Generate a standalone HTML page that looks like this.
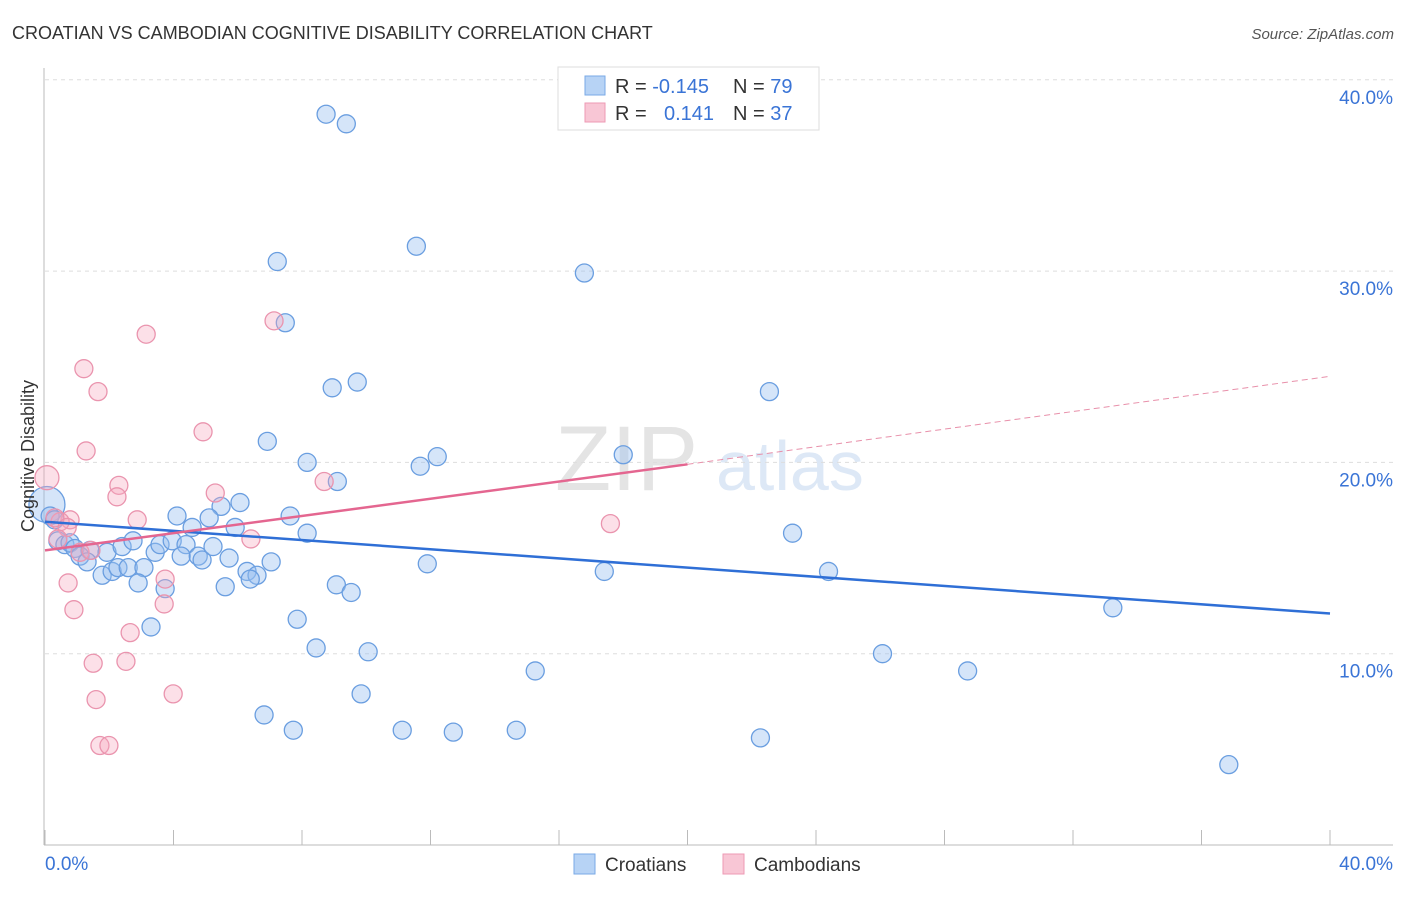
<!DOCTYPE html>
<html><head><meta charset="utf-8"><style>
body{margin:0;background:#fff;font-family:"Liberation Sans",sans-serif}
svg text{font-family:"Liberation Sans",sans-serif}
</style></head><body>
<svg id="chart" width="1406" height="892" xmlns="http://www.w3.org/2000/svg">
<text x="12" y="39" font-size="18" fill="#333">CROATIAN VS CAMBODIAN COGNITIVE DISABILITY CORRELATION CHART</text>
<text x="1394" y="39" font-size="15" fill="#555" font-style="italic" text-anchor="end">Source: ZipAtlas.com</text>
<g>
<text x="555" y="490" font-size="92" font-family="Liberation Serif,serif" fill="#e4e4e4">ZIP</text>
<text x="716" y="490" font-size="70" fill="#dde8f6">atlas</text>
</g>
<g id="grid"></g>
<g id="axes"></g>
<g id="marks"></g>
<text transform="translate(34,456) rotate(-90)" font-size="18" fill="#333" text-anchor="middle">Cognitive Disability</text>
<g>
<rect x="558" y="67" width="261" height="63" fill="#fff" stroke="#ddd"/>
<rect x="585" y="76" width="20" height="19" fill="#b7d3f5" stroke="#7aa9e6"/>
<rect x="585" y="103" width="20" height="19" fill="#f8c6d5" stroke="#ee9ab4"/>
<text x="615" y="93" font-size="20" fill="#333">R = <tspan fill="#3a74d6">-0.145</tspan></text>
<text x="733" y="93" font-size="20" fill="#333">N = <tspan fill="#3a74d6">79</tspan></text>
<text x="615" y="120" font-size="20" fill="#333">R = <tspan fill="#3a74d6" x="664">0.141</tspan></text>
<text x="733" y="120" font-size="20" fill="#333">N = <tspan fill="#3a74d6">37</tspan></text>
</g>
<g>
<rect x="574" y="854" width="21" height="20" fill="#b7d3f5" stroke="#7aa9e6"/>
<text x="605" y="871" font-size="19" fill="#333">Croatians</text>
<rect x="723" y="854" width="21" height="20" fill="#f8c6d5" stroke="#ee9ab4"/>
<text x="754" y="871" font-size="19" fill="#333">Cambodians</text>
</g>
</svg>
<script>
const yTicks=[10,20,30,40];
const yTickLabels=["10.0%","20.0%","30.0%","40.0%"];
const xTickLabels=["0.0%","40.0%"];
const blueX=[8.75,9.38,11.56,7.23,16.79,7.48,9.72,8.94,22.55,6.92,12.21,18.0,8.16,11.68,9.1,6.07,5.48,4.11,5.11,7.63,5.92,4.58,8.16,23.27,0.16,0.3,0.4,0.62,0.78,0.93,1.4,1.09,1.93,2.4,2.74,3.43,3.58,3.96,4.39,4.24,4.77,4.89,5.23,5.73,6.29,6.6,6.39,7.04,1.78,2.09,2.27,1.31,2.59,3.08,2.9,3.74,5.61,9.07,9.53,11.9,17.41,24.39,33.24,3.3,7.85,8.44,10.06,26.07,15.26,28.72,9.84,6.82,7.73,11.12,12.71,14.67,22.27,36.85];
const blueY=[38.2,37.7,31.3,30.5,29.9,27.3,24.2,23.9,23.7,21.1,20.3,20.4,20.0,19.8,19.0,17.9,17.7,17.2,17.1,17.2,16.6,16.6,16.3,16.3,17.2,17.0,15.9,15.7,15.8,15.5,15.4,15.1,15.3,15.6,15.9,15.3,15.7,15.9,15.7,15.1,15.1,14.9,15.6,15.0,14.3,14.1,13.9,14.8,14.1,14.3,14.5,14.8,14.5,14.5,13.7,13.4,13.5,13.6,13.2,14.7,14.3,14.3,12.4,11.4,11.8,10.3,10.1,10.0,9.1,9.1,7.9,6.8,6.0,6.0,5.9,6.0,5.6,4.2];
const pinkX=[3.15,1.21,1.65,7.13,4.92,1.28,2.3,2.24,5.3,8.69,2.87,0.78,0.47,0.31,0.69,6.41,17.6,0.4,1.09,1.43,3.74,0.72,3.71,0.9,2.65,1.5,2.52,3.99,1.59,1.71,1.99];
const pinkY=[26.7,24.9,23.7,27.4,21.6,20.6,18.8,18.2,18.4,19.0,17.0,17.0,16.9,17.1,16.6,16.0,16.8,16.0,15.3,15.4,13.9,13.7,12.6,12.3,11.1,9.5,9.6,7.9,7.6,5.2,5.2];
const bigBlue=[0.06,17.8];
const bigPink=[0.06,19.2];
const blueTrend=[[0,16.9],[40,12.1]];
const pinkTrend=[[0,15.4],[20,19.9],[40,24.5]];
const NS="http://www.w3.org/2000/svg";
const X=v=>45+v*32.125, Y=v=>845-v*19.13;
function mk(tag,attrs,parent){const e=document.createElementNS(NS,tag);for(const k in attrs)e.setAttribute(k,attrs[k]);document.getElementById(parent).appendChild(e);return e;}
yTicks.forEach((t,i)=>{
 const l=mk('line',{x1:45,x2:1393,y1:Y(t),y2:Y(t),stroke:'#ddd','stroke-dasharray':'4,4'},'grid');
 
 
 const tx=mk('text',{x:1393,y:Y(t)+24,'font-size':19,fill:'#3a74d6','text-anchor':'end'},'grid');
 tx.textContent=yTickLabels[i];
 
 
});
let a=mk('line',{x1:44,x2:44,y1:68,y2:845,stroke:'#bbb'},'axes');


a=mk('line',{x1:44,x2:1393,y1:845,y2:845,stroke:'#bbb'},'axes');


for(let v=0;v<=40;v+=4){const t=mk('line',{x1:X(v),x2:X(v),y1:830,y2:845,stroke:'#bbb'},'axes');
 
 }
[[0,'start',45],[1,'end',1393]].forEach(([i,anc,x])=>{const t=mk('text',{x:x,y:870,'font-size':19,fill:'#3a74d6','text-anchor':anc},'axes');t.textContent=xTickLabels[i];
 
 });
function dot(x,y,r,fill,stroke,name){const c=mk('circle',{cx:X(x),cy:Y(y),r:r,fill:fill,stroke:stroke,'stroke-width':1.3},'marks');
 
 }
const bf='rgba(150,190,240,0.4)',bs='#6a9ee0',pf='rgba(245,165,190,0.35)',ps='#ea94ae';
dot(bigBlue[0],bigBlue[1],18,bf,bs,'point-croatians-large');
dot(bigPink[0],bigPink[1],12,pf,ps,'point-cambodians-large');
blueX.forEach((x,i)=>dot(x,blueY[i],9,bf,bs,'point-croatians'));
pinkX.forEach((x,i)=>dot(x,pinkY[i],9,pf,ps,'point-cambodians'));
let ln=mk('line',{x1:X(blueTrend[0][0]),y1:Y(blueTrend[0][1]),x2:X(blueTrend[1][0]),y2:Y(blueTrend[1][1]),stroke:'#2f6fd6','stroke-width':2.5},'marks');


ln=mk('line',{x1:X(pinkTrend[0][0]),y1:Y(pinkTrend[0][1]),x2:X(pinkTrend[1][0]),y2:Y(pinkTrend[1][1]),stroke:'#e46690','stroke-width':2.5},'marks');


ln=mk('line',{x1:X(pinkTrend[1][0]),y1:Y(pinkTrend[1][1]),x2:X(pinkTrend[2][0]),y2:Y(pinkTrend[2][1]),stroke:'#e890aa','stroke-width':1,'stroke-dasharray':'6,4'},'marks');


</script>
</body></html>
